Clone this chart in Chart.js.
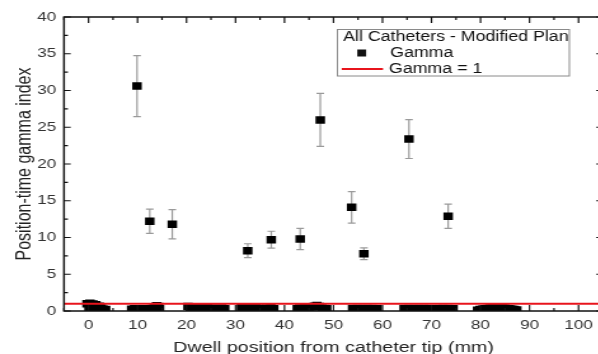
<!DOCTYPE html>
<html>
<head>
<meta charset="utf-8">
<script src="https://cdn.jsdelivr.net/npm/chart.js@4.4.1/dist/chart.umd.min.js"></script>
<style>
  html, body { margin: 0; padding: 0; background: #fff; }
  #wrap { width: 598px; height: 354px; overflow: hidden; }
</style>
</head>
<body>
<!-- the picture is stretched sideways, so the canvas is drawn narrow and widened by css -->
<div id="wrap"><canvas id="myChart" width="480" height="354" style="width:610px;height:354px;display:block"></canvas></div>
<script>
// DATOS: puntos con gamma alto (con barra de error)
const highPos = [9.9, 12.5, 17.1, 32.5, 37.3, 43.2, 47.3, 53.7, 56.2, 65.4, 73.4];
const highGamma = [30.6, 12.2, 11.8, 8.2, 9.7, 9.8, 26.0, 14.1, 7.8, 23.4, 12.9];
const highErr = [4.15, 1.65, 2.0, 0.95, 1.15, 1.45, 3.6, 2.15, 0.8, 2.65, 1.65];

// DATOS: puntos con gamma bajo, pegados al eje
const lowPos = [
  -0.3, 0.1, 0.3, 0.7, 0.9, 1.3, 1.5, 1.9, 2.2, 2.6, 3.0, 3.5,
  8.8, 9.4, 10.0, 10.6, 11.1,
  11.9, 12.4, 12.9, 13.4, 13.9, 14.3, 14.5,
  20.3, 20.8, 21.3, 21.8, 22.3, 22.8, 23.3, 23.8, 24.3, 24.8, 25.3, 25.8, 27.2, 27.8,
  31.2, 31.7, 32.2, 32.7, 33.2, 33.7, 34.2, 34.7, 35.2, 36.2, 36.7, 37.2, 37.8,
  42.6, 43.1, 43.6, 44.1, 44.6, 45.1, 45.6, 46.1, 46.6, 47.1, 47.6, 48.1, 48.6,
  53.9, 54.4, 54.9, 55.4, 55.9, 56.4, 56.9, 57.4, 57.9, 58.4, 58.9,
  64.4, 64.9, 65.4, 65.9, 66.4, 66.9, 67.4, 67.9, 68.4, 68.9, 69.4, 69.9,
  71.4, 71.9, 72.4, 72.9, 73.4, 73.9, 74.4,
  79.4, 79.9, 80.4, 80.9, 81.4, 81.9, 82.4, 82.9, 83.4, 83.9, 84.4, 84.9, 85.4, 85.9, 86.4, 86.9, 87.4
];
const lowGamma = [
  1.0, 0.45, 1.05, 0.25, 0.95, 0.55, 0.85, 0.3, 0.65, 0.4, 0.25, 0.2,
  0.25, 0.3, 0.25, 0.3, 0.2,
  0.25, 0.3, 0.35, 0.5, 0.7, 0.6, 0.3,
  0.6, 0.3, 0.55, 0.35, 0.5, 0.3, 0.45, 0.35, 0.45, 0.3, 0.4, 0.3, 0.4, 0.3,
  0.5, 0.35, 0.55, 0.4, 0.5, 0.3, 0.45, 0.35, 0.3, 0.4, 0.3, 0.45, 0.3,
  0.3, 0.4, 0.35, 0.45, 0.4, 0.5, 0.55, 0.65, 0.75, 0.6, 0.4, 0.35, 0.3,
  0.35, 0.3, 0.35, 0.3, 0.35, 0.3, 0.35, 0.3, 0.35, 0.3, 0.3,
  0.35, 0.3, 0.35, 0.3, 0.35, 0.3, 0.35, 0.3, 0.35, 0.3, 0.35, 0.3,
  0.35, 0.3, 0.35, 0.3, 0.35, 0.3, 0.3,
  0.1, 0.2, 0.25, 0.3, 0.35, 0.4, 0.45, 0.5, 0.55, 0.5, 0.45, 0.4, 0.35, 0.3, 0.25, 0.2, 0.15
];

// linea de referencia gamma = 1
const refX = [-5, 105];
const refGamma = [1, 1];

// ticks de los ejes
const xTicks = [0, 10, 20, 30, 40, 50, 60, 70, 80, 90, 100];
const yTicks = [0, 5, 10, 15, 20, 25, 30, 35, 40];

const legendTitle = "All Catheters - Modified Plan";
const FONT = '"Liberation Sans", Arial, sans-serif';
const S = 610 / 480; // estiramiento horizontal

// BARRAS DE ERROR, MARCO, TICKS Y LEYENDA
const decor = {
  id: "decor",
  beforeDatasetsDraw(chart) {
    const { ctx, scales: { x, y } } = chart;
    ctx.save();
    ctx.strokeStyle = "#9a9a9a";
    ctx.lineWidth = 1.2;
    highPos.forEach((p, i) => {
      const px = x.getPixelForValue(p);
      const top = y.getPixelForValue(highGamma[i] + highErr[i]);
      const bot = y.getPixelForValue(highGamma[i] - highErr[i]);
      ctx.beginPath();
      ctx.moveTo(px, top); ctx.lineTo(px, bot);
      ctx.moveTo(px - 3, top); ctx.lineTo(px + 3, top);
      ctx.moveTo(px - 3, bot); ctx.lineTo(px + 3, bot);
      ctx.stroke();
    });
    ctx.restore();
  },
  afterDraw(chart) {
    const { ctx, chartArea: a, scales: { x, y } } = chart;
    ctx.save();
    // marco
    ctx.strokeStyle = "#111";
    ctx.lineWidth = 1.5;
    ctx.strokeRect(a.left, a.top, a.right - a.left, a.bottom - a.top);

    // ticks hacia adentro (mayores y menores)
    ctx.lineWidth = 1.2;
    ctx.beginPath();
    const xs = [];
    xTicks.forEach(v => { xs.push([v, 6]); xs.push([v + 5, 3]); });
    xs.push([-5, 3]);
    xs.forEach(([v, len]) => {
      const px = x.getPixelForValue(v);
      if (px < a.left || px > a.right) return;
      ctx.moveTo(px, a.bottom); ctx.lineTo(px, a.bottom - len);
      ctx.moveTo(px, a.top); ctx.lineTo(px, a.top + len);
    });
    const ys = [];
    yTicks.forEach(v => { ys.push([v, 5.3]); ys.push([v + 2.5, 3.1]); });
    ys.forEach(([v, len]) => {
      const py = y.getPixelForValue(v);
      if (py < a.top - 0.5 || py > a.bottom + 0.5) return;
      ctx.moveTo(a.left, py); ctx.lineTo(a.left + len, py);
      ctx.moveTo(a.right, py); ctx.lineTo(a.right - len, py);
    });
    ctx.stroke();

    // LEYENDA
    ctx.strokeStyle = "#8a8a8a";
    ctx.lineWidth = 1;
    ctx.strokeRect(265.5, 29.5, 182.5, 46.5);
    ctx.fillStyle = "#111";
    ctx.font = "14px " + FONT;
    ctx.textBaseline = "middle";
    ctx.textAlign = "left";
    ctx.fillText(legendTitle, 270, 37);
    ctx.fillRect(284.6 - 3.5, 53 - 3.5, 7, 7);
    ctx.fillText("Gamma", 307, 53);
    ctx.strokeStyle = "#e8141c";
    ctx.lineWidth = 2;
    ctx.beginPath();
    ctx.moveTo(268.9, 69); ctx.lineTo(301.4, 69);
    ctx.stroke();
    ctx.fillText("Gamma = 1", 306, 69);
    ctx.restore();
  }
};

var gammaPoints = highPos.map((p, i) => ({ x: p, y: highGamma[i] }))
  .concat(lowPos.map((p, i) => ({ x: p, y: lowGamma[i] })));

var data = {
  datasets: [
    {
      type: "line",
      label: "Gamma = 1",
      data: refX.map((v, i) => ({ x: v, y: refGamma[i] })),
      borderColor: "#e8141c",
      borderWidth: 2,
      pointRadius: 0,
      order: 1,
    },
    {
      type: "scatter",
      label: "Gamma",
      data: gammaPoints,
      pointStyle: "rect",
      pointRadius: 5.3,
      pointHoverRadius: 5.3,
      backgroundColor: "#000",
      borderWidth: 0,
      clip: { left: 8, top: 8, right: 8, bottom: 0 },
      order: 2,
    },
  ],
};

// OPCIONES DEL GRAFICO
var options = {
  responsive: false,
  animation: false,
  layout: { padding: { top: 17, right: 5.5, left: 0, bottom: 0 } },
  plugins: { legend: { display: false }, tooltip: { enabled: false } },
  scales: {
    x: {
      type: "linear",
      min: -5,
      max: 105,
      afterBuildTicks: s => { s.ticks = xTicks.map(v => ({ value: v })); },
      afterFit: s => { s.height = 43; },
      grid: { display: false, drawTicks: false },
      border: { display: false },
      ticks: { color: "#333", font: { family: FONT, size: 13.5 }, padding: 6, maxRotation: 0 },
      title: {
        display: true,
        text: "Dwell position from catheter tip (mm)",
        color: "#222",
        font: { family: FONT, size: 15.5 },
        padding: { top: 0, bottom: -3 },
      },
    },
    y: {
      min: 0,
      max: 40,
      afterBuildTicks: s => { s.ticks = yTicks.map(v => ({ value: v })); },
      afterFit: s => { s.width = 64 / S; },
      grid: { display: false, drawTicks: false },
      border: { display: false },
      ticks: { color: "#333", font: { family: FONT, size: 13.5 }, padding: 6 },
      title: {
        display: true,
        text: "Position-time gamma index",
        color: "#222",
        font: { family: FONT, size: 16 },
        padding: { top: 10, bottom: 0 },
      },
    },
  },
};

// CREAR GRAFICO
var ctx = document.getElementById("myChart").getContext("2d");
var myChart = new Chart(ctx, {
  type: "scatter",
  data: data,
  options: options,
  plugins: [decor],
});
</script>
</body>
</html>
